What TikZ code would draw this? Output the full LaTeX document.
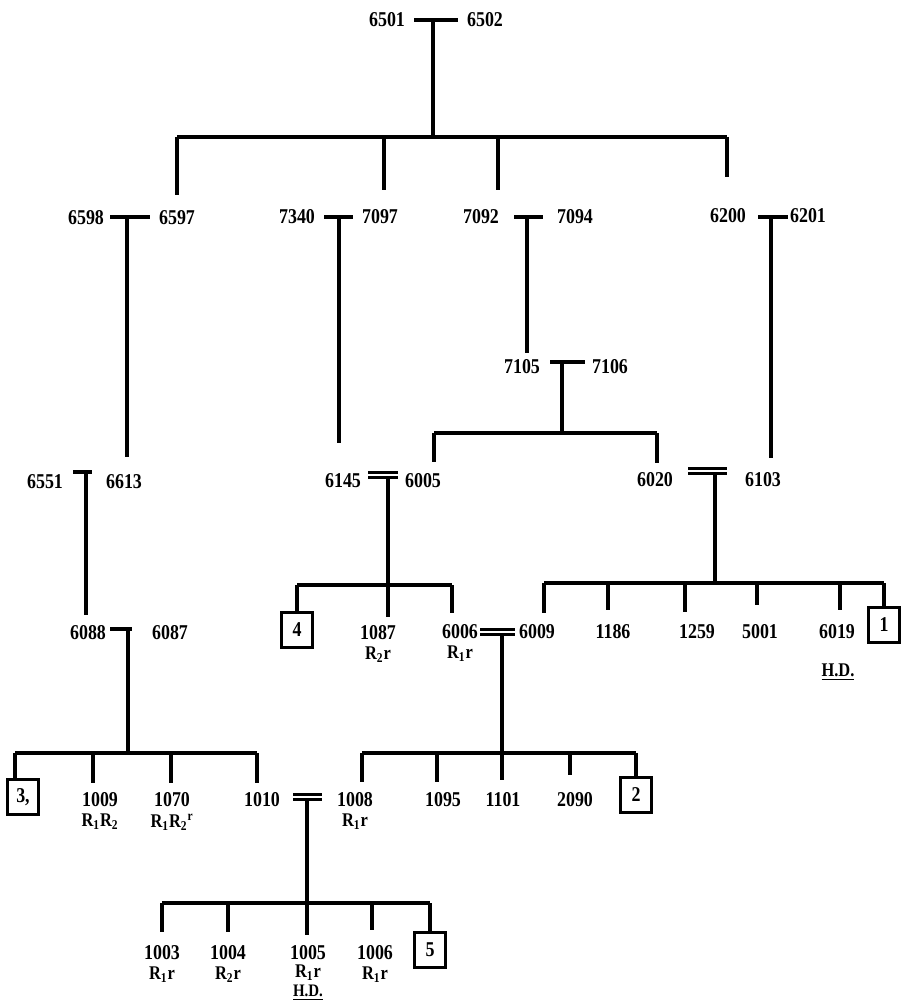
\documentclass[tikz,border=0pt]{standalone}
\usepackage{fontspec}
\setmainfont[FakeStretch=0.85]{Liberation Serif}
\usetikzlibrary{positioning}

\begin{document}
\begin{tikzpicture}[x=0.02cm, y=-0.02cm, line width=1.9pt,
    lab/.style={inner sep=1pt, font=\fontsize{12}{12}\selectfont\bfseries},
    gen/.style={inner sep=1pt, font=\fontsize{11}{11}\selectfont\bfseries},
    sq/.style={draw, line width=1.5pt, inner sep=0pt, minimum width=0.62cm, minimum height=0.7cm, font=\fontsize{12}{12}\selectfont\bfseries},
    twin/.style={double, double distance=1.3pt, line width=1.5pt}]
    \path[use as bounding box, fill=white] (0,0) rectangle (901,1003);

    % Labels
    \node[lab] (n6501) at (387,20) {6501};
    \node[lab] (n6502) at (485,20) {6502};
    \node[lab] (n6598) at (86,218) {6598};
    \node[lab] (n6597) at (177,218) {6597};
    \node[lab] (n7340) at (297,217) {7340};
    \node[lab] (n7097) at (380,217) {7097};
    \node[lab] (n7092) at (481,217) {7092};
    \node[lab] (n7094) at (575,217) {7094};
    \node[lab] (n6200) at (728,216) {6200};
    \node[lab] (n6201) at (808,216) {6201};
    \node[lab] (n7105) at (522,367) {7105};
    \node[lab] (n7106) at (610,367) {7106};
    \node[lab] (n6551) at (45,482) {6551};
    \node[lab] (n6613) at (124,482) {6613};
    \node[lab] (n6145) at (343,481) {6145};
    \node[lab] (n6005) at (423,481) {6005};
    \node[lab] (n6020) at (655,480) {6020};
    \node[lab] (n6103) at (763,480) {6103};
    \node[lab] (n6088) at (88,633) {6088};
    \node[lab] (n6087) at (170,633) {6087};
    \node[sq] (b4) at (297,630) {4};
    \node[lab] (n1087) at (378,633) {1087};
    \node[gen, below=0pt of n1087] (g1087) {R\textsubscript{2}r};
    \node[lab] (n6006) at (460,632) {6006};
    \node[gen, below=0pt of n6006] (g6006) {R\textsubscript{1}r};
    \node[lab] (n6009) at (537,632) {6009};
    \node[lab] (n1186) at (613,632) {1186};
    \node[lab] (n1259) at (697,632) {1259};
    \node[lab] (n5001) at (760,632) {5001};
    \node[lab] (n6019) at (837,632) {6019};
    \node[gen] (h6019) at (838,672) {\underline{H.D.}};
    \node[sq] (b1) at (884,625) {1};
    \node[sq] (b3) at (23,797) {3,};
    \node[lab] (n1009) at (100,800) {1009};
    \node[gen, below=0pt of n1009] (g1009) {R\textsubscript{1}R\textsubscript{2}};
    \node[lab] (n1070) at (172,800) {1070};
    \node[gen, below=0pt of n1070] (g1070) {R\textsubscript{1}R\textsubscript{2}\textsuperscript{r}};
    \node[lab] (n1010) at (262,800) {1010};
    \node[lab] (n1008) at (355,800) {1008};
    \node[gen, below=0pt of n1008] (g1008) {R\textsubscript{1}r};
    \node[lab] (n1095) at (443,800) {1095};
    \node[lab] (n1101) at (503,800) {1101};
    \node[lab] (n2090) at (575,800) {2090};
    \node[sq] (b2) at (636,795) {2};
    \node[lab] (n1003) at (162,953) {1003};
    \node[gen, below=0pt of n1003] (g1003) {R\textsubscript{1}r};
    \node[lab] (n1004) at (228,953) {1004};
    \node[gen, below=0pt of n1004] (g1004) {R\textsubscript{2}r};
    \node[lab] (n1005) at (308,953) {1005};
    \node[gen, inner sep=0pt, below=0pt of n1005] (g1005) {R\textsubscript{1}r};
    \node[gen, inner sep=0pt, font=\fontsize{10}{10}\selectfont\bfseries, below=0.5pt of g1005] (h1005) {\underline{H.D.}};
    \node[lab] (n1006) at (375,953) {1006};
    \node[gen, below=0pt of n1006] (g1006) {R\textsubscript{1}r};
    \node[sq] (b5) at (430,950) {5};

    % Line ends
    \coordinate (m1l) at (414,20);   \coordinate (m1r) at (458,20);   \coordinate (s1) at (433,137);
    \coordinate (d6597) at (177,195); \coordinate (d7097) at (384,190);
    \coordinate (d7092) at (498,190); \coordinate (d6200) at (727,177);
    \coordinate (m2l) at (110,217);  \coordinate (m2r) at (150,217);  \coordinate (d6613) at (127,457);
    \coordinate (m3l) at (324,217);  \coordinate (m3r) at (353,217);  \coordinate (d6145) at (339,443);
    \coordinate (m4l) at (514,217);  \coordinate (m4r) at (543,217);  \coordinate (d7105) at (527,353);
    \coordinate (m5l) at (758,217);  \coordinate (m5r) at (788,217);  \coordinate (d6103) at (771,458);
    \coordinate (m6l) at (550,362);  \coordinate (m6r) at (585,362);  \coordinate (s6) at (562,433);
    \coordinate (d6005) at (434,462); \coordinate (d6020) at (657,463);
    \coordinate (m7l) at (73,472);   \coordinate (m7r) at (92,472);   \coordinate (d6088) at (86,615);
    \coordinate (m8l) at (368,475);  \coordinate (m8r) at (398,475);  \coordinate (s8) at (388,585);
    \coordinate (d1087) at (388,617); \coordinate (d6006) at (452,613);
    \coordinate (m9l) at (688,471);  \coordinate (m9r) at (727,471);  \coordinate (s9) at (715,583);
    \coordinate (d6009) at (544,613); \coordinate (d1186) at (608,610); \coordinate (d1259) at (685,612);
    \coordinate (d5001) at (757,605); \coordinate (d6019) at (840,610);
    \coordinate (m10l) at (110,629); \coordinate (m10r) at (132,629); \coordinate (s10) at (128,753);
    \coordinate (d3) at (15,780);    \coordinate (d1009) at (93,783);  \coordinate (d1070) at (171,783);
    \coordinate (d1010) at (257,783);
    \coordinate (m11l) at (480,632); \coordinate (m11r) at (515,632); \coordinate (s11) at (502,753);
    \coordinate (d1008) at (362,782); \coordinate (d1095) at (437,782); \coordinate (d1101) at (502,780);
    \coordinate (d2090) at (570,775);
    \coordinate (m12l) at (293,797); \coordinate (m12r) at (322,797); \coordinate (s12) at (307,903);
    \coordinate (d1003) at (162,932); \coordinate (d1004) at (228,932); \coordinate (d1005) at (307,935);
    \coordinate (d1006) at (372,930);

    % 6501 x 6502
    \draw (m1l) -- (m1r);
    \draw (s1 |- m1l) -- (s1);
    \draw (d6597 |- s1) -- (d6200 |- s1);
    \foreach \c in {d6597,d7097,d7092,d6200} \draw (\c |- s1) -- (\c);

    % single lines of descent
    \draw (m2l) -- (m2r);  \draw (d6613 |- m2l) -- (d6613);
    \draw (m3l) -- (m3r);  \draw (d6145 |- m3l) -- (d6145);
    \draw (m4l) -- (m4r);  \draw (d7105 |- m4l) -- (d7105);
    \draw (m5l) -- (m5r);  \draw (d6103 |- m5l) -- (d6103);
    \draw (m7l) -- (m7r);  \draw (d6088 |- m7l) -- (d6088);

    % 7105 x 7106
    \draw (m6l) -- (m6r);
    \draw (s6 |- m6l) -- (s6);
    \draw (d6005 |- s6) -- (d6020 |- s6);
    \foreach \c in {d6005,d6020} \draw (\c |- s6) -- (\c);

    % 6145 = 6005
    \draw (s8 |- m8l) -- (s8);
    \draw[twin] (m8l) -- (m8r);
    \draw (b4.north |- s8) -- (d6006 |- s8);
    \draw (b4.north |- s8) -- (b4.north);
    \foreach \c in {d1087,d6006} \draw (\c |- s8) -- (\c);

    % 6020 = 6103
    \draw (s9 |- m9l) -- (s9);
    \draw[twin] (m9l) -- (m9r);
    \draw (d6009 |- s9) -- (b1.north |- s9);
    \draw (b1.north |- s9) -- (b1.north);
    \foreach \c in {d6009,d1186,d1259,d5001,d6019} \draw (\c |- s9) -- (\c);

    % 6088 x 6087
    \draw (m10l) -- (m10r);
    \draw (s10 |- m10l) -- (s10);
    \draw (d3 |- s10) -- (d1010 |- s10);
    \foreach \c in {d3,d1009,d1070,d1010} \draw (\c |- s10) -- (\c);

    % 6006 = 6009
    \draw (s11 |- m11l) -- (s11);
    \draw[twin] (m11l) -- (m11r);
    \draw (d1008 |- s11) -- (b2.north |- s11);
    \draw (b2.north |- s11) -- (b2.north);
    \foreach \c in {d1008,d1095,d1101,d2090} \draw (\c |- s11) -- (\c);

    % 1010 = 1008
    \draw (s12 |- m12l) -- (s12);
    \draw[twin] (m12l) -- (m12r);
    \draw (d1003 |- s12) -- (b5.north |- s12);
    \draw (b5.north |- s12) -- (b5.north);
    \foreach \c in {d1003,d1004,d1005,d1006} \draw (\c |- s12) -- (\c);
\end{tikzpicture}
\end{document}
